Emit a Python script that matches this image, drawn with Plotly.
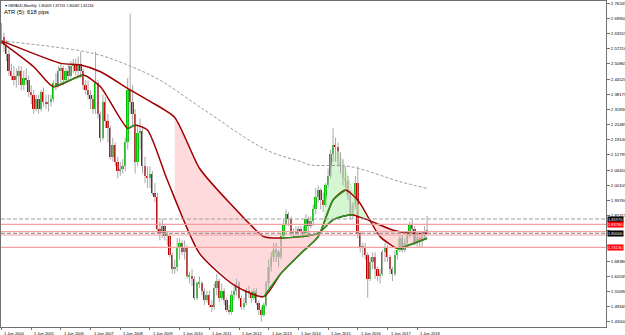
import plotly.graph_objects as go
import numpy as np

# ---------------- data (monthly GBPAUD, Jun 2004 .. Oct 2018) ----------------
opens = [2.650,2.620,2.590,2.550,2.480,2.460,2.440,
 2.460,2.480,2.420,2.450,2.440,2.390,2.380,2.320,2.360,2.320,2.390,2.350,
 2.340,2.350,2.360,2.430,2.420,2.480,2.490,2.440,2.480,2.460,2.500,2.510,
 2.480,2.510,2.480,2.420,2.400,2.380,2.360,2.320,2.430,2.300,2.200,2.350,
 2.270,2.240,2.120,2.170,2.100,2.060,2.070,2.080,2.180,2.400,2.350,2.300,
 2.100,2.220,2.230,2.080,2.040,2.030,2.050,1.970,1.950,1.820,1.800,1.830,
 1.790,1.790,1.710,1.650,1.660,1.740,1.760,1.720,1.740,1.620,1.620,1.610,
 1.530,1.590,1.590,1.560,1.520,1.540,1.500,1.490,1.570,1.600,1.530,1.560,
 1.520,1.480,1.470,1.540,1.560,1.590,1.530,1.490,1.510,1.560,1.550,1.530,
 1.560,1.510,1.480,1.460,1.500,1.590,1.660,1.700,1.730,1.720,1.700,1.790,
 1.840,1.880,1.860,1.800,1.810,1.800,1.820,1.810,1.800,1.860,1.830,1.850,
 1.900,1.950,1.980,1.940,1.920,2.000,2.040,2.130,2.170,2.160,2.100,2.080,
 2.030,2.020,1.960,1.880,1.920,2.010,1.800,1.740,1.740,1.710,1.610,1.680,
 1.700,1.650,1.620,1.630,1.720,1.740,1.700,1.650,1.630,1.710,1.730,1.780,
 1.730,1.760,1.790,1.840,1.820,1.760,1.780,1.770,1.790,1.80409]
highs = [2.680,2.640,2.610,2.570,2.510,2.500,2.490,
 2.500,2.500,2.480,2.490,2.460,2.420,2.400,2.380,2.380,2.400,2.410,2.380,
 2.380,2.380,2.440,2.470,2.500,2.510,2.500,2.490,2.510,2.520,2.530,2.530,
 2.540,2.560,2.490,2.440,2.440,2.400,2.380,2.560,2.440,2.310,2.380,2.370,
 2.300,2.250,2.200,2.180,2.120,2.100,2.110,2.200,2.450,2.720,2.420,2.320,
 2.250,2.280,2.250,2.120,2.080,2.080,2.060,2.010,1.970,1.850,1.860,1.840,
 1.810,1.800,1.720,1.690,1.780,1.780,1.770,1.770,1.750,1.640,1.650,1.620,
 1.600,1.620,1.600,1.570,1.560,1.560,1.520,1.590,1.630,1.610,1.590,1.570,
 1.530,1.500,1.560,1.580,1.610,1.600,1.540,1.530,1.570,1.580,1.560,1.570,
 1.570,1.520,1.490,1.510,1.600,1.690,1.720,1.760,1.760,1.730,1.800,1.860,
 1.900,1.890,1.870,1.820,1.830,1.830,1.830,1.830,1.880,1.870,1.870,1.920,
 1.990,2.000,1.990,1.970,2.010,2.070,2.150,2.240,2.200,2.180,2.140,2.110,
 2.080,2.040,1.980,1.930,2.040,2.080,1.810,1.760,1.760,1.720,1.700,1.720,
 1.720,1.660,1.650,1.730,1.760,1.750,1.710,1.660,1.730,1.740,1.790,1.790,
 1.780,1.800,1.850,1.860,1.830,1.800,1.790,1.810,1.830,1.87231]
lows = [2.590,2.560,2.520,2.460,2.440,2.420,2.410,
 2.420,2.400,2.400,2.420,2.370,2.340,2.300,2.310,2.300,2.310,2.330,2.320,
 2.310,2.330,2.350,2.400,2.410,2.430,2.420,2.430,2.440,2.450,2.470,2.460,
 2.460,2.450,2.400,2.380,2.360,2.320,2.300,2.300,2.280,2.180,2.190,2.240,
 2.180,2.110,2.100,2.080,2.030,2.040,2.050,2.060,2.150,2.300,2.250,2.050,
 2.080,2.150,2.050,2.010,1.990,1.990,1.960,1.930,1.800,1.770,1.780,1.770,
 1.750,1.700,1.630,1.630,1.640,1.690,1.710,1.690,1.610,1.590,1.580,1.520,
 1.520,1.570,1.540,1.500,1.510,1.490,1.470,1.480,1.540,1.510,1.520,1.500,
 1.470,1.460,1.460,1.520,1.540,1.520,1.480,1.480,1.500,1.530,1.510,1.520,
 1.500,1.460,1.430,1.450,1.490,1.570,1.640,1.680,1.680,1.660,1.690,1.780,
 1.830,1.830,1.790,1.780,1.790,1.790,1.790,1.780,1.790,1.800,1.820,1.830,
 1.880,1.930,1.900,1.890,1.910,1.990,2.030,2.100,2.100,2.080,2.050,2.000,
 1.990,1.940,1.860,1.860,1.900,1.780,1.720,1.700,1.690,1.530,1.600,1.650,
 1.610,1.600,1.590,1.620,1.680,1.680,1.630,1.600,1.620,1.690,1.720,1.720,
 1.720,1.740,1.780,1.800,1.750,1.740,1.740,1.740,1.780,1.80082]
closes = [2.620,2.590,2.550,2.480,2.460,2.440,2.460,
 2.480,2.420,2.450,2.440,2.390,2.380,2.320,2.360,2.320,2.390,2.350,2.340,
 2.350,2.360,2.430,2.420,2.480,2.490,2.440,2.480,2.460,2.500,2.510,2.480,
 2.510,2.480,2.420,2.400,2.380,2.360,2.320,2.430,2.300,2.200,2.350,2.270,
 2.240,2.120,2.170,2.100,2.060,2.070,2.080,2.180,2.400,2.350,2.300,2.100,
 2.220,2.230,2.080,2.040,2.030,2.050,1.970,1.950,1.820,1.800,1.830,1.790,
 1.790,1.710,1.650,1.660,1.740,1.760,1.720,1.740,1.620,1.620,1.610,1.530,
 1.590,1.590,1.560,1.520,1.540,1.500,1.490,1.570,1.600,1.530,1.560,1.520,
 1.480,1.470,1.540,1.560,1.590,1.530,1.490,1.510,1.560,1.550,1.530,1.560,
 1.510,1.480,1.460,1.500,1.590,1.660,1.700,1.730,1.720,1.700,1.790,1.840,
 1.880,1.860,1.800,1.810,1.800,1.820,1.810,1.800,1.860,1.830,1.850,1.900,
 1.950,1.980,1.940,1.920,2.000,2.040,2.130,2.170,2.160,2.100,2.080,2.030,
 2.020,1.960,1.880,1.920,2.010,1.800,1.740,1.740,1.710,1.610,1.680,1.700,
 1.650,1.620,1.630,1.720,1.740,1.700,1.650,1.630,1.710,1.730,1.780,1.730,
 1.760,1.790,1.840,1.820,1.760,1.780,1.770,1.790,1.804,1.81244]
months = list(range(len(closes)))

# moving averages (month index, price)
slow_ma_x = [0, 2, 24, 32, 40, 52, 60, 70, 80, 93, 106, 113, 121, 128, 134, 140, 142, 148, 158, 165, 172]
slow_ma_y = [2.605, 2.597, 2.511, 2.504, 2.476, 2.400, 2.352, 2.285, 2.072, 1.918, 1.786, 1.780, 1.786,
             1.800, 1.856, 1.875, 1.877, 1.856, 1.814, 1.800, 1.800]
fast_ma_x = [0, 13, 21, 33, 40, 51, 54, 59, 67, 80, 94, 106, 113, 121, 128, 134, 139, 144, 153, 160, 163, 172]
fast_ma_y = [2.600, 2.497, 2.413, 2.462, 2.413, 2.239, 2.253, 2.232, 2.023, 1.716, 1.583, 1.535, 1.633,
             1.716, 1.786, 1.939, 1.981, 1.939, 1.786, 1.737, 1.744, 1.779]
long_ma_x = [0, 37, 51, 64, 80, 107, 121, 125, 141, 161, 172]
long_ma_y = [2.605, 2.553, 2.504, 2.441, 2.330, 2.149, 2.100, 2.086, 2.079, 2.016, 1.988]
cloud_start = 70
# upper edge of the green (bullish) cloud
green_cloud_x = [129, 131, 133, 134, 136, 138, 141, 144, 147, 149]
green_cloud_y = [1.797, 1.930, 2.080, 2.128, 2.145, 2.110, 2.010, 1.925, 1.875, 1.853]

# horizontal levels
grey_levels = [1.8597, 1.7999]
pink_levels = [1.8376, 1.8066, 1.7928, 1.7413]
price_tags = [("1.85970", 1.8597, "black"), ("1.83760", 1.8376, "red"),
              ("1.80000", 1.7999, "black"), ("1.74130", 1.7413, "red")]

y_tick_labels = ["2.76245","2.69900","2.63555","2.57210","2.50865","2.44520","2.38175","2.31830",
                 "2.25485","2.19140","2.12795","2.06450","2.00105","1.93760","1.87415","1.81070",
                 "1.74725","1.68380","1.62035","1.55690","1.49345","1.43000"]
hidden_tick_labels = ["1.81070", "1.74725"]   # covered by the price tags in the original
x_tick_months = [0, 12, 24, 36, 48, 60, 72, 84, 96, 108, 120, 132, 144, 156, 168]
x_tick_labels = ["1 Jun 2004", "1 Jun 2005", "1 Jun 2006", "1 Jun 2007", "1 Jun 2008",
                 "1 Jun 2009", "1 Jun 2010", "1 Jun 2011", "1 Jun 2012", "1 Jun 2013",
                 "1 Jun 2014", "1 Jun 2015", "1 Jun 2016", "1 Jun 2017", "1 Jun 2018"]

header = "GBPAUD,Monthly  1.80409 1.87231 1.80082 1.81244"
atr_text = "ATR (5): 618 pips"

# ---------------- styling ----------------
RED = "#a00000"
GREEN = "#1e9a1e"
BULL = "#00c000"
BEAR = "#c00000"
WICK = "#a8a8a8"
PINK_FILL = "rgba(255,205,210,0.75)"
GREEN_FILL = "rgba(205,245,200,0.85)"
FONT = "Liberation Sans"

fig = go.Figure()

# pink cloud between fast and slow MAs (where fast < slow)
grid = np.arange(cloud_start, months[-1] + 0.001, 0.25)
fs = np.interp(grid, fast_ma_x, fast_ma_y)
ss = np.interp(grid, slow_ma_x, slow_ma_y)
below = fs <= ss
start = 0
for k in range(1, len(grid) + 1):
    if k == len(grid) or below[k] != below[start]:
        if below[start]:
            seg = slice(start, k + 1 if k < len(grid) else k)
            gx = grid[seg]
            px = list(gx) + list(gx[::-1])
            py = list(fs[seg]) + list(ss[seg][::-1])
            fig.add_trace(go.Scatter(x=px, y=py, fill="toself", mode="lines", line=dict(width=0),
                                     fillcolor=PINK_FILL, hoverinfo="skip", showlegend=False))
        start = k

# green cloud between its upper edge and the slow MA
gslow = list(np.interp(green_cloud_x, slow_ma_x, slow_ma_y))
fig.add_trace(go.Scatter(x=green_cloud_x + green_cloud_x[::-1], y=green_cloud_y + gslow[::-1],
                         fill="toself", mode="lines", line=dict(width=0), fillcolor=GREEN_FILL,
                         hoverinfo="skip", showlegend=False))

# long MA (dashed grey)
fig.add_trace(go.Scatter(x=long_ma_x, y=long_ma_y, mode="lines", line=dict(color="#9a9a9a", width=1, dash="3px,2px", shape="spline"),
                         hoverinfo="skip", showlegend=False))

# wicks
wx, wy = [], []
for i, h, l in zip(months, highs, lows):
    wx += [i, i, None]
    wy += [l, h, None]
fig.add_trace(go.Scatter(x=wx, y=wy, mode="lines", line=dict(color=WICK, width=1), hoverinfo="skip", showlegend=False))

# bodies
base = [min(o, c) for o, c in zip(opens, closes)]
hgt = [max(abs(c - o), 0.003) for o, c in zip(opens, closes)]
cols = [BULL if c >= o else BEAR for o, c in zip(opens, closes)]
fig.add_trace(go.Bar(x=months, y=hgt, base=base, width=0.75, marker=dict(color=cols, line=dict(width=0)),
                     hoverinfo="skip", showlegend=False))

# MA lines: red, with green overlay on rising runs
def add_run(xs, ys, run):
    fig.add_trace(go.Scatter(x=[xs[r] for r in run], y=[ys[r] for r in run], mode="lines",
                             line=dict(color=GREEN, width=1.5, shape="spline", smoothing=0.6),
                             hoverinfo="skip", showlegend=False))

def add_ma(xs, ys):
    fig.add_trace(go.Scatter(x=xs, y=ys, mode="lines", line=dict(color=RED, width=1.5, shape="spline", smoothing=0.6),
                             hoverinfo="skip", showlegend=False))
    run = []
    for j in range(1, len(xs)):
        if ys[j] > ys[j - 1]:
            if not run:
                run = [j - 1]
            run.append(j)
        else:
            if run:
                add_run(xs, ys, run)
            run = []
    if run:
        add_run(xs, ys, run)

add_ma(slow_ma_x, slow_ma_y)
add_ma(fast_ma_x, fast_ma_y)

shapes = []
for lv in pink_levels:
    shapes.append(dict(type="line", xref="paper", x0=0, x1=1, yref="y", y0=lv, y1=lv,
                       line=dict(color="#f4a0a0", width=1.2), layer="above"))
for lv in grey_levels:
    shapes.append(dict(type="line", xref="paper", x0=0, x1=1, yref="y", y0=lv, y1=lv,
                       line=dict(color="#a0a0a0", width=1.2, dash="4px,2px"), layer="above"))

annotations = []
for txt, lv, col in price_tags:
    annotations.append(dict(x=1, xref="paper", xanchor="left", xshift=1, y=lv, yref="y", yanchor="middle",
                            text=txt, showarrow=False, bgcolor="black" if col == "black" else "#ff0000",
                            font=dict(family=FONT, size=4.0, color="white"), borderpad=0))
for m, t in zip(x_tick_months, x_tick_labels):
    annotations.append(dict(x=m, xref="x", xanchor="left", xshift=1, y=0, yref="paper", yanchor="top", yshift=-1.5,
                            text=t, showarrow=False, font=dict(family=FONT, size=4.0, color="black")))
annotations.append(dict(x=0, xref="paper", xanchor="left", xshift=2, y=1, yref="paper", yanchor="top", yshift=-1,
                        text="\u25be " + header, showarrow=False, font=dict(family=FONT, size=3.6, color="black")))
annotations.append(dict(x=0, xref="paper", xanchor="left", xshift=1, y=1, yref="paper", yanchor="top", yshift=-6,
                        text=atr_text, showarrow=False, font=dict(family=FONT, size=5.8, color="black")))

y_ticktext = ["" if t in hidden_tick_labels else t for t in y_tick_labels]

fig.update_layout(
    width=625, height=335, margin=dict(l=1, r=19, t=1, b=8, autoexpand=False),
    paper_bgcolor="white", plot_bgcolor="white", bargap=0,
    shapes=shapes, annotations=annotations, showlegend=False,
    xaxis=dict(range=[-0.2, 244.3], showgrid=False, zeroline=False, showline=True, linecolor="#707070", linewidth=1,
               mirror=True, tickvals=x_tick_months, showticklabels=False, ticks="outside", ticklen=2,
               tickcolor="#707070", automargin=False, fixedrange=True),
    yaxis=dict(range=[1.40777, 2.77208], side="right", showgrid=False, zeroline=False, showline=True,
               linecolor="#707070", linewidth=1, mirror=True, automargin=False,
               tickvals=[float(t) for t in y_tick_labels], ticktext=y_ticktext, ticks="outside", ticklen=3,
               tickcolor="#707070", tickfont=dict(family=FONT, size=4.3, color="black"), fixedrange=True),
)

fig.write_html("out.html")
